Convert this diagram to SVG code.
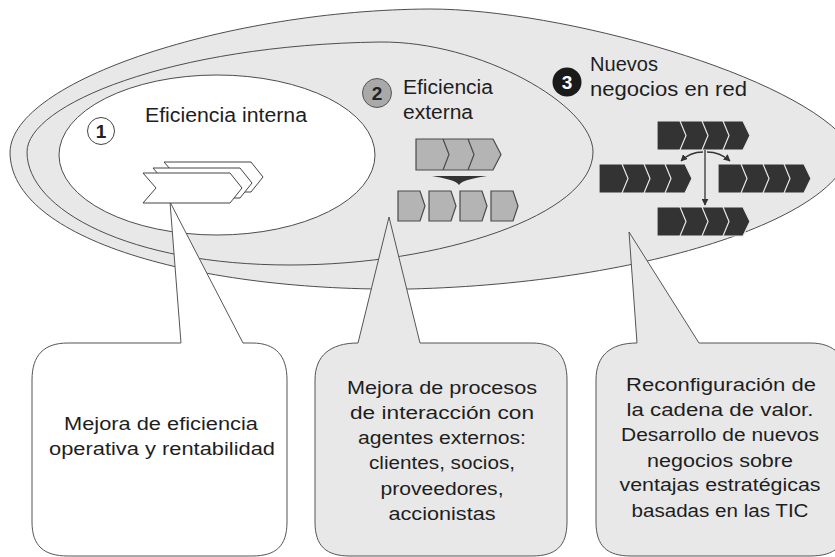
<svg xmlns="http://www.w3.org/2000/svg" width="835" height="557" viewBox="0 0 835 557">
<style>
.ell{stroke:#4d4d4d;stroke-width:1}
.call{stroke:#555;stroke-width:1}
.txt{font-family:"Liberation Sans",Arial,sans-serif;fill:#1e1e1e}
.h{font-size:20px}
.b{font-size:17.5px;text-anchor:middle}
.num{font-family:"Liberation Sans",Arial,sans-serif;font-weight:bold;font-size:19px;text-anchor:middle}
.flag{fill:#fff;stroke:#444;stroke-width:1}
.gch{fill:#b4b4b4;stroke:#4a4a4a;stroke-width:1.2}
.gsep{fill:none;stroke:#4a4a4a;stroke-width:1.2}
.dch{fill:#333;stroke:#e8e8e8;stroke-width:1.2}
.dsep{fill:none;stroke:#e8e8e8;stroke-width:1.2}
.conn{fill:none;stroke:#333;stroke-width:1.3}
</style>
<defs>
<g id="bar">
<path class="dch" d="M0,0 H86 L93,14.5 L86,29 H0 Z"/>
<path class="dsep" d="M23,0 L29,14.5 L23,29 M45,0 L51,14.5 L45,29 M66,0 L72,14.5 L66,29"/>
</g>
<marker id="ah" viewBox="0 0 10 10" refX="9" refY="5" markerWidth="7" markerHeight="7" orient="auto" markerUnits="userSpaceOnUse">
<path d="M0,0 L10,5 L0,10 Z" fill="#333"/>
</marker>
</defs>

<g id="outer-zone">
<path class="ell" fill="#e8e8e8" d="M10,152 C12,80 230,10 430,9 C560,9 800,75 850,145 C850,215 650,283 410,289 C200,292 10,240 10,152 Z"/>
</g>
<g id="zone2-area">
<path class="ell" fill="#e8e8e8" d="M27,152 C27,105 170,45 380,42 C480,41 593,105 593,152 C593,215 440,265 290,265 C130,265 27,210 27,152 Z"/>
</g>
<g id="zone1-area">
<ellipse class="ell" fill="#ffffff" cx="217" cy="155" rx="158" ry="80"/>
</g>

<g id="callout1">
<path class="call" fill="#ffffff" d="M32,380 C32,355 44,343 68,343 L181,343 L170,202 L243,343 L252,343 C276,343 287,356 287,380 L287,522 C287,546 276,556 252,556 L68,556 C44,556 32,546 32,522 Z"/>
<text class="txt b" x="161" y="430" textLength="194" lengthAdjust="spacingAndGlyphs">Mejora de eficiencia</text>
<text class="txt b" x="162" y="455" textLength="226" lengthAdjust="spacingAndGlyphs">operativa y rentabilidad</text>
</g>

<g id="callout2">
<path class="call" fill="#e8e8e8" d="M315,380 C315,356 330,343 358,343 L389,217 L420,343 L532,343 C556,343 567,356 567,380 L567,522 C567,546 556,556 532,556 L350,556 C326,556 315,546 315,522 Z"/>
<text class="txt b" x="442" y="393.5" textLength="190" lengthAdjust="spacingAndGlyphs">Mejora de procesos</text>
<text class="txt b" x="442" y="419" textLength="184" lengthAdjust="spacingAndGlyphs">de interacción con</text>
<text class="txt b" x="442" y="444" textLength="168" lengthAdjust="spacingAndGlyphs">agentes externos:</text>
<text class="txt b" x="442" y="469" textLength="146" lengthAdjust="spacingAndGlyphs">clientes, socios,</text>
<text class="txt b" x="442" y="494.5" textLength="123" lengthAdjust="spacingAndGlyphs">proveedores,</text>
<text class="txt b" x="442" y="520" textLength="107" lengthAdjust="spacingAndGlyphs">accionistas</text>
</g>

<g id="callout3">
<path class="call" fill="#e8e8e8" d="M596,380 C596,356 610,343 637,343 L629,232 L699,343 L810,343 C835,343 846,356 846,380 L846,522 C846,546 835,556 810,556 L631,556 C607,556 596,546 596,522 Z"/>
<text class="txt b" x="721" y="391" textLength="190" lengthAdjust="spacingAndGlyphs">Reconfiguración de</text>
<text class="txt b" x="720" y="416" textLength="187" lengthAdjust="spacingAndGlyphs">la cadena de valor.</text>
<text class="txt b" x="720" y="441" textLength="198" lengthAdjust="spacingAndGlyphs">Desarrollo de nuevos</text>
<text class="txt b" x="720" y="466.5" textLength="146" lengthAdjust="spacingAndGlyphs">negocios sobre</text>
<text class="txt b" x="720" y="491" textLength="201" lengthAdjust="spacingAndGlyphs">ventajas estratégicas</text>
<text class="txt b" x="720" y="516.5" textLength="177" lengthAdjust="spacingAndGlyphs">basadas en las TIC</text>
</g>

<g id="zone1">
<circle cx="101" cy="131" r="13.5" fill="#fff" stroke="#444" stroke-width="1"/>
<text class="num" x="101" y="138" fill="#222">1</text>
<text class="txt h" x="145" y="122" textLength="162" lengthAdjust="spacingAndGlyphs">Eficiencia interna</text>
<polygon class="flag" points="164,162 251,162 263,177 251,192 164,192 177,177"/>
<polygon class="flag" points="153,168 240,168 252,183 240,198 153,198 166,183"/>
<polygon class="flag" points="143,173 230,173 242,188 230,203 143,203 156,188"/>
</g>

<g id="zone2">
<circle cx="377" cy="93" r="14.5" fill="#a9a9a9" stroke="#555" stroke-width="1"/>
<text class="num" x="377" y="100" fill="#222">2</text>
<text class="txt h" x="403" y="94" textLength="90" lengthAdjust="spacingAndGlyphs">Eficiencia</text>
<text class="txt h" x="403" y="119" textLength="70" lengthAdjust="spacingAndGlyphs">externa</text>
<path class="gch" d="M416,139 H493 L501,154.5 L493,170 H416 Z"/>
<path class="gsep" d="M443,139 L449,154.5 L443,170 M468,139 L474,154.5 L468,170"/>
<path fill="#333" d="M432,176 L487,176 C475,178 462,180 459,185 C456,180 443,178 432,176 Z"/>
<path class="gch" d="M398,191 H420 L425,206 L420,221 H398 Z"/>
<path class="gch" d="M429,191 H451 L456,206 L451,221 H429 Z"/>
<path class="gch" d="M460,191 H482 L487,206 L482,221 H460 Z"/>
<path class="gch" d="M491,191 H513 L518,206 L513,221 H491 Z"/>
</g>

<g id="zone3">
<circle cx="567" cy="82" r="14.5" fill="#1a1a1a"/>
<text class="num" x="567" y="89" fill="#fff">3</text>
<text class="txt h" x="590" y="70.5" textLength="68" lengthAdjust="spacingAndGlyphs">Nuevos</text>
<text class="txt h" x="590" y="95.5" textLength="157" lengthAdjust="spacingAndGlyphs">negocios en red</text>
<use href="#bar" x="657" y="121"/>
<use href="#bar" x="599" y="164"/>
<use href="#bar" x="718" y="164"/>
<use href="#bar" x="657" y="207"/>
</g>

<g id="connectors">
<line class="conn" x1="705" y1="150" x2="705" y2="205" marker-end="url(#ah)"/>
<path class="conn" d="M703,152 Q690,152 681,161" marker-end="url(#ah)"/>
<path class="conn" d="M707,152 Q720,152 730,161" marker-end="url(#ah)"/>
</g>
</svg>
